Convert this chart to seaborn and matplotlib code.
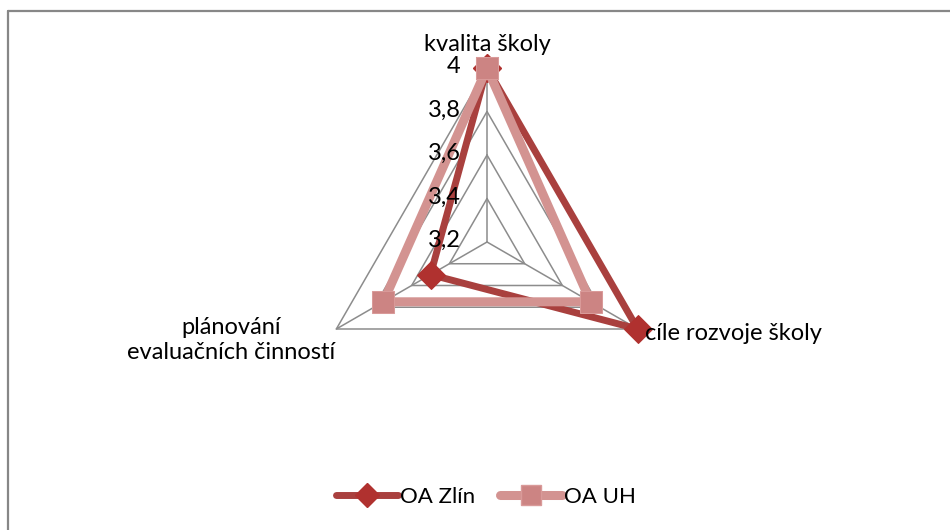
import numpy as np
import matplotlib
matplotlib.use("Agg")
import matplotlib.pyplot as plt
from matplotlib.lines import Line2D
import seaborn as sns

categories = ["kvalita školy", "cíle rozvoje školy", "plánování\nevaluačních činností"]
oa_zlin = [4.0, 4.0, 3.5]
oa_uh = [4.0, 3.75, 3.75]
series_names = ["OA Zlín", "OA UH"]
r_ticks = [3.2, 3.4, 3.6, 3.8, 4.0]
r_tick_labels = ["3,2", "3,4", "3,6", "3,8", "4"]

sns.set_theme(style="white")
plt.rcParams["font.family"] = ["Lato", "DejaVu Sans"]
plt.rcParams["text.color"] = "black"

FS = 17
fig = plt.figure(figsize=(9.5, 5.3), dpi=100)
ax = fig.add_axes([0.3295, 0.2151, 0.3663, 0.6566], projection="polar")
ax.set_theta_zero_location("N")
ax.set_theta_direction(-1)
ax.set_ylim(r_ticks[0], r_ticks[-1])
ax.grid(False)
ax.spines["polar"].set_visible(False)
ax.set_xticks([])
ax.set_yticks([])
ax.patch.set_alpha(0)

n = len(categories)
theta = np.linspace(0, 2 * np.pi, n, endpoint=False)
theta_c = np.append(theta, theta[0] + 2 * np.pi)

grid_col = "#8c8c8c"
for v in r_ticks[1:]:
    ax.plot(theta_c, [v] * (n + 1), color=grid_col, lw=1.1, zorder=1, clip_on=False)
for t in theta:
    ax.plot([t, t], [r_ticks[0], r_ticks[-1]], color=grid_col, lw=1.1, zorder=1, clip_on=False)

def closed(vals):
    return np.append(vals, vals[0])

zlin_line = "#a9403e"
zlin_mark = "#b0312f"
uh_line = "#d39391"
uh_mark = "#cc8483"

sns.lineplot(x=theta_c, y=closed(oa_zlin), ax=ax, sort=False, color=zlin_line,
             lw=5, marker="D", markersize=14, markerfacecolor=zlin_mark,
             markeredgecolor=zlin_mark, zorder=3, clip_on=False)
sns.lineplot(x=theta_c, y=closed(oa_uh), ax=ax, sort=False, color=uh_line,
             lw=6.5, marker="s", markersize=16, markerfacecolor=uh_mark,
             markeredgecolor="#d99a99", zorder=4, clip_on=False)
ax.set_xlabel("")
ax.set_ylabel("")

# radial tick labels
for v, lab in zip(r_ticks, r_tick_labels):
    ax.annotate(lab, xy=(0, v), xytext=(-19, 1), textcoords="offset points",
                ha="right", va="center", fontsize=FS, color="black",
                annotation_clip=False, zorder=10)

# category labels
ax.annotate(categories[0], xy=(theta[0], 4.0), xytext=(0, 17),
            textcoords="offset points", ha="center", va="center",
            fontsize=FS, color="black", annotation_clip=False, zorder=10)
ax.annotate(categories[1], xy=(theta[1], 4.0), xytext=(5, -3),
            textcoords="offset points", ha="left", va="center",
            fontsize=FS, color="black", annotation_clip=False, zorder=10)
ax.annotate(categories[2], xy=(theta[2], 4.0), xytext=(-1, -8),
            textcoords="offset points", ha="right", va="center",
            fontsize=FS, color="black", multialignment="center", linespacing=1.2,
            annotation_clip=False, zorder=10)

# legend
handles = [
    Line2D([], [], color=zlin_line, lw=5, marker="D", markersize=12,
           markerfacecolor=zlin_mark, markeredgecolor=zlin_mark),
    Line2D([], [], color=uh_line, lw=6.5, marker="s", markersize=14,
           markerfacecolor=uh_mark, markeredgecolor="#d99a99"),
]
leg = fig.legend(handles, series_names, loc="center", bbox_to_anchor=(486 / 950, 1 - 497 / 530),
                 ncol=2, frameon=False, fontsize=16, handlelength=2.8,
                 handletextpad=0.1, columnspacing=1.1)
for t in leg.get_texts():
    t.set_color("black")

# chart border (top and left visible)
bc = "#878787"
fig.add_artist(Line2D([8 / 950, 1.0], [1 - 11 / 530, 1 - 11 / 530], color=bc, lw=1.6,
                      transform=fig.transFigure))
fig.add_artist(Line2D([8 / 950, 8 / 950], [0.0, 1 - 11 / 530], color=bc, lw=1.6,
                      transform=fig.transFigure))

fig.savefig("out.png", dpi=100, facecolor="white")
